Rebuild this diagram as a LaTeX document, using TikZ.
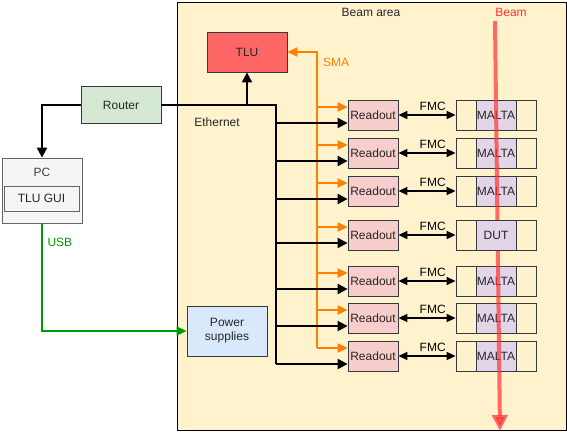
\documentclass[tikz,border=0pt]{standalone}
\usepackage{fontspec}
\setmainfont{Liberation Sans}
\usetikzlibrary{arrows.meta}
\definecolor{area}{HTML}{FFF2CC}
\definecolor{tlufill}{HTML}{FF6666}
\definecolor{routerfill}{HTML}{D5E8D4}
\definecolor{pcfill}{HTML}{F5F5F5}
\definecolor{readfill}{HTML}{F8CECC}
\definecolor{chipfill}{HTML}{E1D5E7}
\definecolor{psfill}{HTML}{DAE8FC}
\definecolor{edge}{HTML}{36393D}
\definecolor{smaorange}{HTML}{FF8000}
\definecolor{usbgreen}{HTML}{009900}
\definecolor{beamred}{HTML}{FF3333}

\begin{document}
\begin{tikzpicture}[x=1pt,y=-1pt,font=\fontsize{12}{14}\selectfont,
    box/.style={draw=edge,line width=0.8pt,inner sep=0pt,text=black!85},
    readout/.style={box,fill=readfill,minimum width=50pt,minimum height=30pt},
    slot/.style={box,fill=area,minimum width=80pt,minimum height=30pt},
    chip/.style={box,fill=chipfill,minimum width=40pt,minimum height=30pt},
    eth/.style={line width=2pt,-{Triangle[width=10pt,length=10pt]}},
    fmc/.style={line width=1.5pt,{Triangle[width=8pt,length=9pt]}-{Triangle[width=8pt,length=9pt]}},
    sma/.style={smaorange,line width=2pt,-{Triangle[width=9pt,length=10pt]}},
    usb/.style={usbgreen,line width=1.5pt,-{Triangle[width=9pt,length=10pt]}}]
    \useasboundingbox (0,0) rectangle (567,445);
    % beam area
    \draw[black,line width=0.8pt,fill=area] (177,2) rectangle (566,430);
    \node[text=black!85] (areatitle) at (371,12) {Beam area};
    \node[text=beamred] (beamtitle) at (511,12) {Beam};
    % boxes outside the rows
    \node[box,fill=tlufill,minimum width=80pt,minimum height=40pt] (tlu) at (247,52) {TLU};
    \node[box,fill=routerfill,minimum width=80pt,minimum height=37pt] (router) at (121,105) {Router};
    \node[box,draw=black!60,fill=pcfill,minimum width=80pt,minimum height=65pt] (pc) at (42,190.5) {};
    \node[text=black!75] (pctitle) at (42,172) {PC};
    \node[box,draw=black!60,fill=pcfill,minimum width=75pt,minimum height=25pt] (gui) at (41.5,198.5) {TLU GUI};
    \node[box,fill=psfill,minimum width=80pt,minimum height=50pt,align=center] (ps) at (227,331) {Power\\supplies};
    % ethernet
    \coordinate (bustop) at (276,105);
    \coordinate (busbot) at (276,364);
    \draw[line width=2pt] (router.east) -- (bustop) -- (busbot);
    \draw[eth] (router.west) -| (pc.north);
    \draw[eth] (tlu |- bustop) -- (tlu.south);
    \node[text=black!85] (ethlabel) at (217,122) {Ethernet};
    % usb
    \draw[usb] (pc.south) |- (ps.west);
    \node[text=usbgreen,anchor=west] (usblabel) at (44,242) {USB};
    % sma
    \coordinate (smabot) at (317,348);
    \draw[sma] (smabot) -- (smabot |- tlu.east) -- (tlu.east);
    \node[text=smaorange] (smalabel) at (336,62) {SMA};
    % rows
    \foreach \n/\y in {1/115,2/153,3/191,4/235,5/281,6/318,7/356} {
        \node[readout] (r\n) at (373,\y) {Readout};
        \node[slot] (m\n) at (496,\y) {};
        \draw[fmc] (r\n.east) -- node[pos=0.6,above,inner sep=4pt] {FMC} (m\n.west);
        \coordinate (e\n) at ([yshift=-8pt]r\n.west);
        \coordinate (s\n) at ([yshift=8pt]r\n.west);
        \draw[eth] (bustop |- e\n) -- (e\n);
        \draw[sma] (smabot |- s\n) -- (s\n);
    }
    \foreach \n in {1,2,3,5,6,7}
        \node[chip] (c\n) at (m\n) {MALTA};
    % beam
    \coordinate (beamstart) at (495,21);
    \coordinate (beamend) at (500,431);
    \draw[beamred,opacity=0.7,line width=4pt,-{Triangle[width=15pt,length=16pt]}] (beamstart) -- (beamend);
    \node[chip] (c4) at (m4) {DUT};
\end{tikzpicture}
\end{document}
